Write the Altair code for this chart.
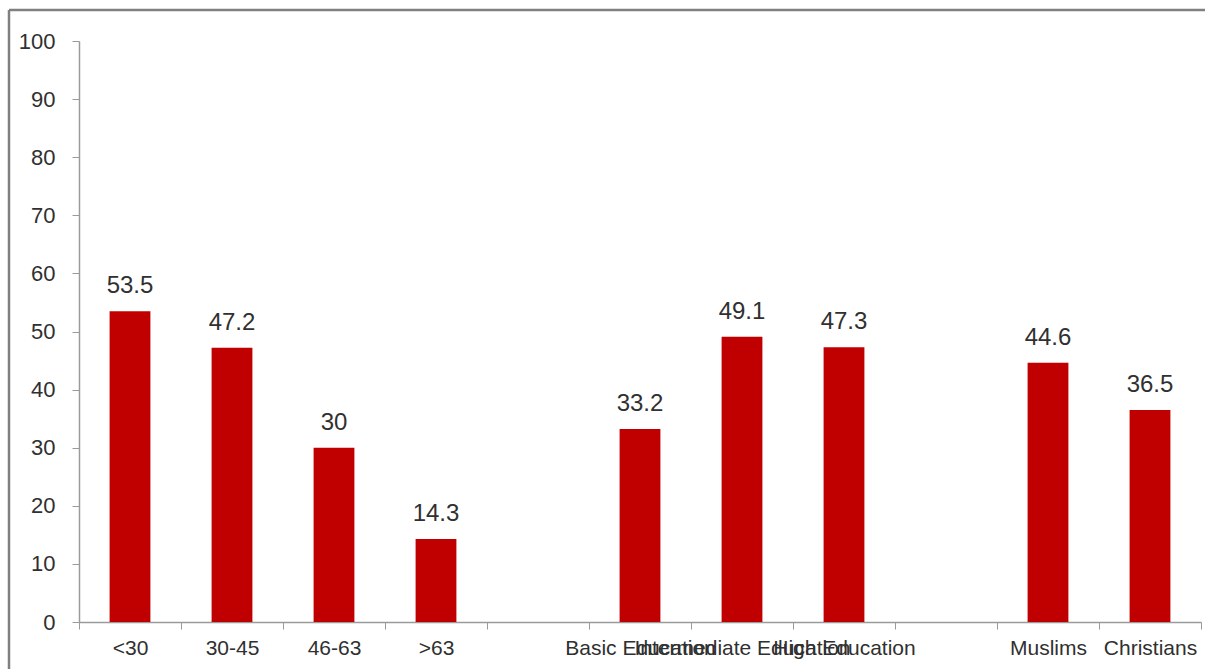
import altair as alt
import pandas as pd

# Share of respondents (%) by age group, education level and religion.
# Two blank slots separate the three groups on the category axis.
categories = ["<30", "30-45", "46-63", ">63", " ",
              "Basic Education", "Intermediate Education", "High Education", "  ",
              "Muslims", "Christians"]
groups = ["<30", "30-45", "46-63", ">63",
          "Basic Education", "Intermediate Education", "High Education",
          "Muslims", "Christians"]
values = [53.5, 47.2, 30, 14.3, 33.2, 49.1, 47.3, 44.6, 36.5]
y_ticks = [0, 10, 20, 30, 40, 50, 60, 70, 80, 90, 100]

df = pd.DataFrame({"group": groups, "value": values})

FONT = "Liberation Sans"
BAR_RED = "#C00000"
AXIS_GREY = "#9a9a9a"
TEXT_GREY = "#303030"
FRAME_GREY = "#808080"

# Bands without padding so the extent ticks fall midway between bars;
# the bars themselves take 40% of each band.
x_enc = alt.X(
    "group:N",
    sort=categories,
    scale=alt.Scale(domain=categories, paddingInner=0, paddingOuter=0),
    axis=alt.Axis(
        title=None, labelAngle=0, tickBand="extent", labelOverlap=False,
        labelLimit=500, labelFont=FONT, labelFontSize=21, labelColor=TEXT_GREY,
        labelPadding=8, tickSize=7, tickColor=AXIS_GREY, domainColor=AXIS_GREY,
        domainWidth=1.5, grid=False,
    ),
)
y_enc = alt.Y(
    "value:Q",
    scale=alt.Scale(domain=[0, 100], nice=False),
    axis=alt.Axis(
        title=None, values=y_ticks, labelFont=FONT, labelFontSize=22,
        labelColor=TEXT_GREY, labelPadding=17, tickSize=7, tickColor=AXIS_GREY,
        domainColor=AXIS_GREY, domainWidth=1.5, grid=False,
    ),
)

bars = alt.Chart(df).mark_bar(
    color=BAR_RED, width=alt.RelativeBandSize(0.4)
).encode(x=x_enc, y=y_enc)

labels = alt.Chart(df).mark_text(
    font=FONT, fontSize=24, color=TEXT_GREY, baseline="alphabetic", dy=-18
).encode(x=x_enc, y=y_enc, text=alt.Text("value:Q"))

# Outer frame: only its top and left edges fall on the page
one = pd.DataFrame({"f": [0]})
frame_top = alt.Chart(one).mark_rule(color=FRAME_GREY, strokeWidth=2.5).encode(
    x=alt.value(-70), x2=alt.value(1126), y=alt.value(-31)
)
frame_left = alt.Chart(one).mark_rule(color=FRAME_GREY, strokeWidth=2.5).encode(
    x=alt.value(-70), y=alt.value(-31), y2=alt.value(628)
)

chart = alt.layer(frame_top, frame_left, bars, labels).properties(
    width=1122,
    height=581,
    autosize=alt.AutoSizeParams(type="none"),
    padding={"left": 79, "top": 41, "right": 4, "bottom": 47},
).configure(
    background="white",
    view=alt.ViewConfig(stroke="transparent", strokeWidth=0),
)

chart.save("out.html", embed_options={"renderer": "svg", "actions": False})
